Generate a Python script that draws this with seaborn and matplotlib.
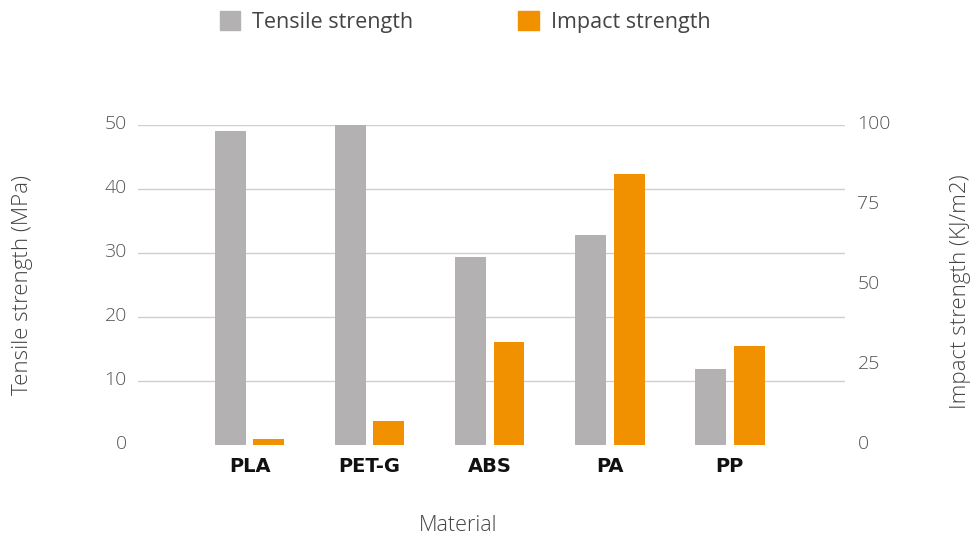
import matplotlib
matplotlib.use("Agg")
import matplotlib.pyplot as plt
import matplotlib.patches as mpatches
from matplotlib.transforms import ScaledTranslation
import seaborn as sns
import pandas as pd

materials = ["PLA", "PET-G", "ABS", "PA", "PP"]
tensile = [49.1, 50.0, 29.3, 32.8, 11.9]
impact = [1.8, 7.5, 32.1, 84.8, 30.8]
series = ["Tensile strength", "Impact strength"]
left_ticks = [0, 10, 20, 30, 40, 50]
right_ticks = [0, 25, 50, 75, 100]

colors = {"Tensile strength": "#b3b1b2", "Impact strength": "#f29100"}

sns.set_theme(style="white")
plt.rcParams["font.family"] = ["Open Sans", "DejaVu Sans"]

df_t = pd.DataFrame({"Material": materials, "Value": tensile, "Series": series[0]})
df_i = pd.DataFrame({"Material": materials, "Value": impact, "Series": series[1]})

fig = plt.figure(figsize=(9.74, 5.38), dpi=100)
ax = fig.add_axes([138 / 974, 1 - 445 / 538, (845 - 138) / 974, (445 - 125) / 538])
ax2 = ax.twinx()

sns.barplot(data=df_t, x="Material", y="Value", hue="Series", hue_order=series,
            palette=colors, order=materials, width=0.643, gap=0.197, dodge=True,
            ax=ax, legend=False, saturation=1, edgecolor="none")
sns.barplot(data=df_i, x="Material", y="Value", hue="Series", hue_order=series,
            palette=colors, order=materials, width=0.643, gap=0.197, dodge=True,
            ax=ax2, legend=False, saturation=1, edgecolor="none")

ax.set_xlim(-0.93, 4.96)
ax.set_ylim(0, 50)
ax2.set_ylim(0, 100)
ax.set_yticks(left_ticks)
ax2.set_yticks(right_ticks)

ax.yaxis.grid(True, color="#cfcfcf", linewidth=1)
ax.set_axisbelow(True)
ax.get_ygridlines()[0].set_visible(False)
ax2.grid(False)

for a in (ax, ax2):
    for s in a.spines.values():
        s.set_visible(False)
    a.tick_params(axis="both", length=0)

ax.tick_params(axis="y", labelsize=14, labelcolor="#555555", pad=8)
ax2.tick_params(axis="y", labelsize=14, labelcolor="#555555", pad=9)
ax.tick_params(axis="x", labelsize=14, labelcolor="#111111", pad=9)
for lbl in ax.get_xticklabels():
    lbl.set_fontweight("bold")
    lbl.set_family("DejaVu Sans")
up = ScaledTranslation(0, 3 / 100, fig.dpi_scale_trans)
for lbl in ax.get_yticklabels() + ax2.get_yticklabels():
    lbl.set_fontweight("light")
    lbl.set_transform(lbl.get_transform() + up)

ax.set_xlabel("Material", fontsize=15.5, color="#444444", fontweight="light")
ax.xaxis.set_label_coords((458 - 138) / (845 - 138), -0.22)
ax.set_ylabel("Tensile strength (MPa)", fontsize=16, color="#444444", fontweight="light")
ax.yaxis.set_label_coords(-(138 - 33) / (845 - 138), 0.5)
ax2.set_ylabel("Impact strength (KJ/m2)", fontsize=16, color="#444444", fontweight="light")
ax2.yaxis.set_label_coords(1 + (950 - 845) / (845 - 138), 0.48)

handles = [mpatches.Patch(color=colors[s], label=s) for s in series]
fig.legend(handles=handles, loc="center", bbox_to_anchor=(465 / 974, 1 - 22 / 538),
           ncol=2, frameon=False, fontsize=15.5, handlelength=0.93, handleheight=0.93,
           handletextpad=0.56, columnspacing=4.9, labelcolor="#444444")

fig.savefig("out.png", dpi=100)
